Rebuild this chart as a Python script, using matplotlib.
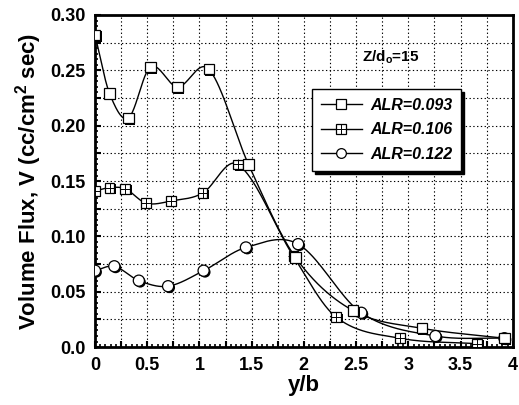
import numpy as np
import matplotlib
matplotlib.use('Agg')
import matplotlib.pyplot as plt
import matplotlib.patheffects as pe
from matplotlib.ticker import MultipleLocator, FuncFormatter
from matplotlib.lines import Line2D

plt.rcParams['font.family'] = 'Liberation Sans'
plt.rcParams['font.weight'] = 'bold'
plt.rcParams['mathtext.fontset'] = 'custom'
plt.rcParams['mathtext.rm'] = 'Liberation Sans:bold'
plt.rcParams['mathtext.bf'] = 'Liberation Sans:bold'

# ALR = 0.093 (open squares)
x_093 = [0.0, 0.14, 0.32, 0.53, 0.79, 1.09, 1.47, 1.92, 2.47, 3.13, 3.92]
v_093 = [0.282, 0.229, 0.207, 0.253, 0.235, 0.251, 0.165, 0.081, 0.033, 0.017, 0.008]

# ALR = 0.106 (crossed squares)
x_106 = [0.0, 0.14, 0.29, 0.49, 0.73, 1.03, 1.37, 1.90, 2.31, 2.92, 3.66]
v_106 = [0.141, 0.144, 0.143, 0.130, 0.132, 0.139, 0.165, 0.082, 0.027, 0.008, 0.003]

# ALR = 0.122 (circles)
x_122 = [0.0, 0.185, 0.42, 0.70, 1.04, 1.445, 1.945, 2.55, 3.26, 3.92]
v_122 = [0.069, 0.073, 0.060, 0.055, 0.069, 0.090, 0.093, 0.031, 0.010, 0.008]

labels = ['ALR=0.093', 'ALR=0.106', 'ALR=0.122']


def smooth(x, y, n=40):
    # cardinal (Catmull-Rom) curve through the points, only for drawing the line
    x = np.asarray(x, float); y = np.asarray(y, float)
    m = len(x)
    d = np.zeros(m)
    d[0] = (y[1] - y[0]) / (x[1] - x[0])
    d[-1] = (y[-1] - y[-2]) / (x[-1] - x[-2])
    d[1:-1] = (y[2:] - y[:-2]) / (x[2:] - x[:-2])
    xs, ys = [], []
    for i in range(m - 1):
        h = x[i + 1] - x[i]
        t = np.linspace(0, 1, n)
        h00 = 2*t**3 - 3*t**2 + 1
        h10 = t**3 - 2*t**2 + t
        h01 = -2*t**3 + 3*t**2
        h11 = t**3 - t**2
        xs.append(x[i] + t * h)
        ys.append(h00*y[i] + h10*h*d[i] + h01*y[i + 1] + h11*h*d[i + 1])
    return np.concatenate(xs), np.concatenate(ys)


fig = plt.figure(figsize=(5.19, 4.05), dpi=100)
ax = fig.add_axes([0.183, 0.143, 0.805, 0.820])

shadow = [pe.SimplePatchShadow(offset=(1.0, -1.0), shadow_rgbFace='k', alpha=1), pe.Normal()]

for xd, yd in [(x_093, v_093), (x_106, v_106), (x_122, v_122)]:
    xs, ys = smooth(xd, yd)
    ax.plot(xs, ys, 'k-', lw=1.0, zorder=3)

ax.plot(x_106, v_106, 's', ms=7, mfc='w', mec='k', mew=0.9, zorder=4, path_effects=shadow)
ax.plot(x_106, v_106, '+', ms=7, mec='k', mew=0.7, zorder=5)
ax.plot(x_122, v_122, 'o', ms=8, mfc='w', mec='k', mew=0.9, zorder=4, path_effects=shadow)
ax.plot(x_093, v_093, 's', ms=7.5, mfc='w', mec='k', mew=0.9, zorder=6, path_effects=shadow)

ax.set_xlim(0, 4)
ax.set_ylim(0, 0.30)

ax.xaxis.set_major_locator(MultipleLocator(0.25))
ax.xaxis.set_minor_locator(MultipleLocator(0.05))
ax.yaxis.set_major_locator(MultipleLocator(0.025))
ax.yaxis.set_minor_locator(MultipleLocator(0.005))


def xfmt(v, pos):
    if abs(v / 0.5 - round(v / 0.5)) > 1e-6:
        return ''
    return '%g' % v


def yfmt(v, pos):
    if abs(v / 0.05 - round(v / 0.05)) > 1e-6:
        return ''
    if abs(v) < 1e-9:
        return '0.0'
    return '%.2f' % v


ax.xaxis.set_major_formatter(FuncFormatter(xfmt))
ax.yaxis.set_major_formatter(FuncFormatter(yfmt))
ax.tick_params(which='major', direction='in', length=4, width=1.5, labelsize=13, pad=7)
ax.tick_params(which='minor', direction='in', length=2.5, width=1.2)
ax.tick_params(top=False, right=False)
for lab in ax.get_xticklabels() + ax.get_yticklabels():
    lab.set_fontweight('bold')

for s in ax.spines.values():
    s.set_linewidth(2)

ax.grid(True, which='major', color='k', linestyle=(0, (1.2, 2.2)), linewidth=0.8)
ax.set_axisbelow(True)

ax.set_xlabel('y/b', fontsize=16, fontweight='bold', labelpad=1)
ax.set_ylabel(r'Volume Flux, V (cc/cm$^{\mathbf{2}}$ sec)', fontsize=16, fontweight='bold', labelpad=4)

ax.text(2.56, 0.262, r'Z/d$_{\mathbf{o}}$=15', fontsize=11, fontweight='bold', ha='left', va='center')

handles = [
    Line2D([], [], color='k', lw=1, marker='s', ms=7, mfc='w', mec='k', mew=0.9),
    (Line2D([], [], color='k', lw=1, marker='s', ms=7, mfc='w', mec='k', mew=0.9),
     Line2D([], [], ls='none', marker='+', ms=7, mec='k', mew=0.7)),
    Line2D([], [], color='k', lw=1, marker='o', ms=7, mfc='w', mec='k', mew=0.9),
]
leg = ax.legend(handles, labels, loc='upper left', bbox_to_anchor=(0.519, 0.777),
                borderaxespad=0, frameon=True, fancybox=False, edgecolor='k',
                framealpha=1, handlelength=2.6, handletextpad=0.5, labelspacing=0.6,
                borderpad=0.55, prop={'size': 11.5, 'weight': 'bold', 'style': 'italic'},
                shadow={'color': 'k', 'alpha': 1})
leg.get_frame().set_linewidth(1.0)
leg.set_zorder(10)

fig.savefig('out.png', dpi=100)
